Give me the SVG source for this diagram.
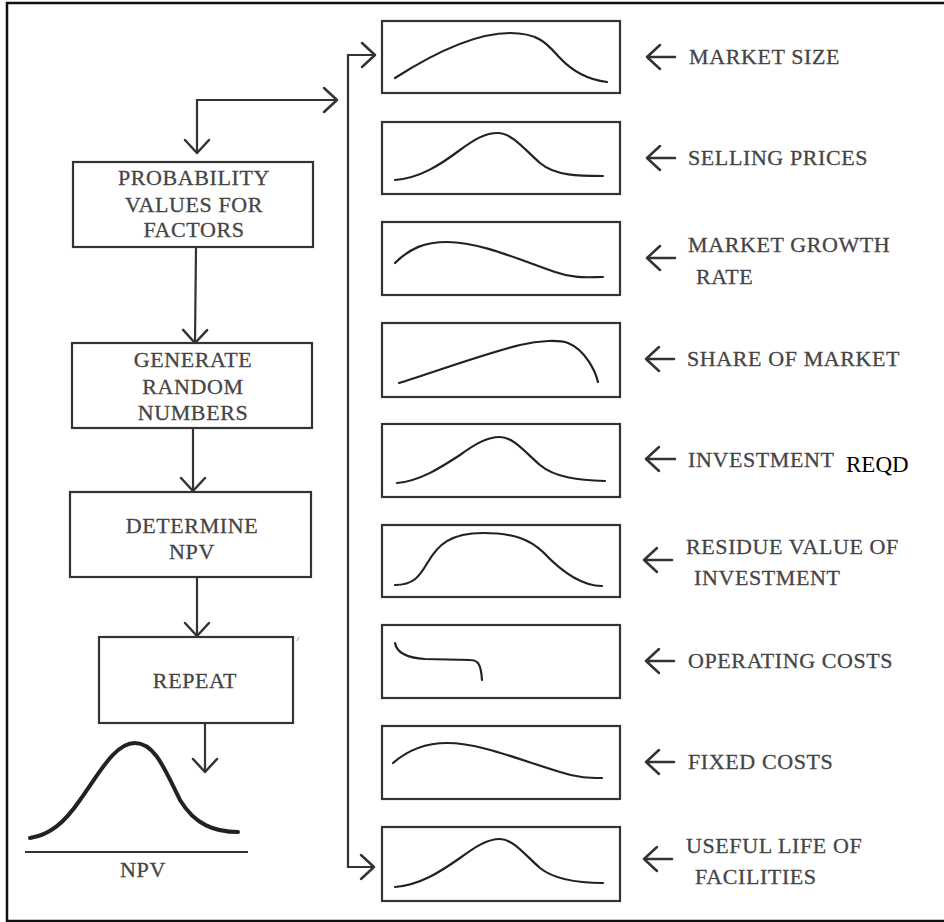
<svg xmlns="http://www.w3.org/2000/svg" width="944" height="922" viewBox="0 0 944 922">
<defs>
<marker id="arr" markerUnits="userSpaceOnUse" markerWidth="30" markerHeight="30" refX="0" refY="0" viewBox="-16 -15 18 30" orient="auto-start-reverse" overflow="visible">
<path d="M-13,-12 L0,0 L-13,12" fill="none" stroke="#333" stroke-width="2.5" stroke-linecap="round" stroke-linejoin="round"/>
</marker>
<style>
.box{fill:none;stroke:#333;stroke-width:2.2}
.curve{fill:none;stroke:#222;stroke-width:2.2;stroke-linecap:round}
.conn{fill:none;stroke:#333;stroke-width:2.2}
.lab{font-family:"Liberation Serif","Times New Roman",serif;font-size:22px;fill:#454545;letter-spacing:0.6px;stroke:#454545;stroke-width:0.3px}
.mid{text-anchor:middle}
.larr{fill:none;stroke:#333;stroke-width:2.5;stroke-linecap:round;stroke-linejoin:round}
</style>
</defs>
<rect width="944" height="922" fill="#fff"/>
<rect id="frame" x="7" y="3" width="942" height="918" fill="none" stroke="#111" stroke-width="2.5"/>

<g id="connectors">
<path class="conn" d="M197,153 L197,100 L337,100" marker-start="url(#arr)" marker-end="url(#arr)"/>
<path class="conn" d="M196,247 L195,343" marker-end="url(#arr)"/>
<path class="conn" d="M193,428 L193,491" marker-end="url(#arr)"/>
<path class="conn" d="M197,577 L197,636" marker-end="url(#arr)"/>
<path class="conn" d="M205,723 L205,772" marker-end="url(#arr)"/>
<path class="conn" d="M375,55 L348,55 L348,867 L374,867" marker-start="url(#arr)" marker-end="url(#arr)"/>
<path class="larr" d="M675,57 L647,57 M660,45 L647,57 L660,69"/>
<path class="larr" d="M675,158 L647,158 M660,146 L647,158 L660,170"/>
<path class="larr" d="M675,258 L647,258 M660,246 L647,258 L660,270"/>
<path class="larr" d="M674,359 L646,359 M659,347 L646,359 L659,371"/>
<path class="larr" d="M675,459 L646,459 M659,447 L646,459 L659,471"/>
<path class="larr" d="M672,560 L644,560 M657,548 L644,560 L657,572"/>
<path class="larr" d="M674,661 L646,661 M659,649 L646,661 L659,673"/>
<path class="larr" d="M674,762 L646,762 M659,750 L646,762 L659,774"/>
<path class="larr" d="M672,859 L644,859 M657,847 L644,859 L657,871"/>
</g>

<g id="node-probability">
<rect class="box" x="73" y="162" width="240" height="85"/>
<text class="lab mid" x="194" y="185">PROBABILITY</text>
<text class="lab mid" x="194" y="212">VALUES FOR</text>
<text class="lab mid" x="194" y="237">FACTORS</text>
</g>
<g id="node-generate">
<rect class="box" x="72" y="343" width="240" height="85"/>
<text class="lab mid" x="193" y="367">GENERATE</text>
<text class="lab mid" x="193" y="394">RANDOM</text>
<text class="lab mid" x="193" y="420">NUMBERS</text>
</g>
<g id="node-determine">
<rect class="box" x="70" y="492" width="241" height="85"/>
<text class="lab mid" x="192" y="533">DETERMINE</text>
<text class="lab mid" x="192" y="559">NPV</text>
</g>
<g id="node-repeat">
<rect class="box" x="99" y="637" width="194" height="86"/>
<text class="lab mid" x="195" y="688">REPEAT</text>
<path d="M297,641 L299,637" stroke="#999" stroke-width="1" fill="none"/>
</g>
<g id="node-npv">
<path d="M30,838 C50,835 65,822 80,800 C100,772 115,743 135,743 C155,743 165,770 180,800 C195,825 215,832 238,832" fill="none" stroke="#222" stroke-width="4" stroke-linecap="round"/>
<line x1="25" y1="852" x2="248" y2="852" stroke="#333" stroke-width="2"/>
<text class="lab mid" x="143" y="877">NPV</text>
</g>

<g id="node-market-size">
<rect class="box" x="382" y="21" width="238" height="72"/>
<path class="curve" d="M395,78 C420,62 470,33 510,33 C540,33 548,45 560,58 C575,74 590,80 607,82"/>
<text class="lab" x="689" y="64">MARKET SIZE</text>
</g>
<g id="node-selling-prices">
<rect class="box" x="382" y="122" width="238" height="72"/>
<path class="curve" d="M395,180 C420,178 440,165 460,150 C475,139 485,133 498,133 C512,133 525,150 540,163 C555,176 580,176 603,176"/>
<text class="lab" x="688" y="165">SELLING PRICES</text>
</g>
<g id="node-market-growth">
<rect class="box" x="382" y="222" width="238" height="73"/>
<path class="curve" d="M395,263 C410,248 425,242 447,242 C480,242 520,260 555,272 C575,279 590,277 603,277"/>
<text class="lab" x="688" y="252">MARKET GROWTH</text>
<text class="lab" x="696" y="284">RATE</text>
</g>
<g id="node-share">
<rect class="box" x="382" y="323" width="238" height="74"/>
<path class="curve" d="M399,383 C440,370 490,352 520,345 C540,340 560,340 568,343 C585,350 595,370 598,382"/>
<text class="lab" x="687" y="366">SHARE OF MARKET</text>
</g>
<g id="node-investment">
<rect class="box" x="382" y="424" width="238" height="73"/>
<path class="curve" d="M397,483 C420,481 440,468 460,455 C475,444 487,437 500,437 C513,437 525,452 540,465 C555,478 580,480 605,481"/>
<text class="lab" x="688" y="467">INVESTMENT</text>
<text x="846" y="472" font-family="Liberation Serif, Times New Roman, serif" font-size="23" fill="#000">REQD</text>
</g>
<g id="node-residue">
<rect class="box" x="382" y="525" width="238" height="72"/>
<path class="curve" d="M395,585 C415,585 420,575 428,562 C438,545 450,533 483,533 C515,533 530,540 543,552 C560,570 580,586 602,586"/>
<text class="lab" x="686" y="554">RESIDUE VALUE OF</text>
<text class="lab" x="694" y="585">INVESTMENT</text>
</g>
<g id="node-operating">
<rect class="box" x="382" y="625" width="238" height="73"/>
<path class="curve" d="M395,643 C397,654 408,658 425,659 L470,660 C478,660 481,664 482,680"/>
<text class="lab" x="688" y="668">OPERATING COSTS</text>
</g>
<g id="node-fixed">
<rect class="box" x="382" y="726" width="238" height="73"/>
<path class="curve" d="M393,763 C408,750 425,743 447,743 C480,743 520,760 560,772 C578,778 590,778 602,778"/>
<text class="lab" x="688" y="769">FIXED COSTS</text>
</g>
<g id="node-useful-life">
<rect class="box" x="382" y="827" width="238" height="74"/>
<path class="curve" d="M395,887 C420,885 440,872 460,858 C475,847 487,839 500,839 C513,839 525,855 540,868 C555,880 580,883 603,883"/>
<text class="lab" x="686" y="853">USEFUL LIFE OF</text>
<text class="lab" x="695" y="884">FACILITIES</text>
</g>
</svg>
